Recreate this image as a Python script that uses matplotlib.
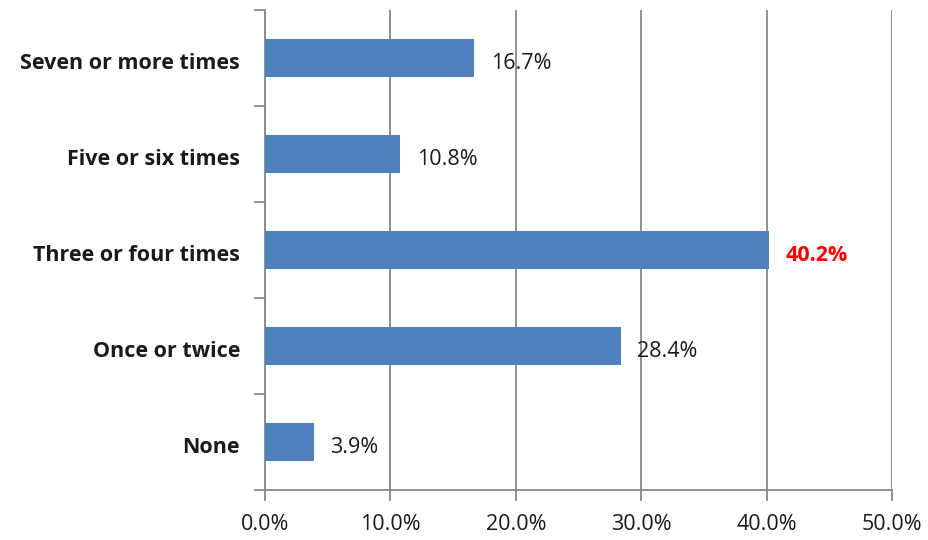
import matplotlib
matplotlib.use("Agg")
import matplotlib.pyplot as plt
from matplotlib.ticker import FuncFormatter, MultipleLocator
import matplotlib.transforms as mtransforms

categories = ["None", "Once or twice", "Three or four times", "Five or six times", "Seven or more times"]
values = [3.9, 28.4, 40.2, 10.8, 16.7]
highlight = "Three or four times"

plt.rcParams["font.family"] = ["Open Sans", "DejaVu Sans"]

fig = plt.figure(figsize=(9.29, 5.40), dpi=100)
ax = fig.add_axes([0.2853, 0.0926, 0.9602 - 0.2853, 0.9815 - 0.0926])

bar_color = "#4F81BD"
grid_color = "#878787"
text_color = "#1a1a1a"
fs = 15.5

pos = list(range(len(categories)))
ax.barh(pos, values, height=0.4, color=bar_color, zorder=3)

ax.set_xlim(0, 50)
ax.set_ylim(-0.5, len(categories) - 0.5)
ax.xaxis.set_major_locator(MultipleLocator(10))
ax.xaxis.set_major_formatter(FuncFormatter(lambda v, _: f"{v:.1f}%"))
ax.grid(axis="x", color=grid_color, linewidth=1.3, zorder=0)

# category labels sit between tick marks placed at the category boundaries
ax.set_yticks(pos)
ax.set_yticklabels(categories, fontsize=fs, fontweight="bold", color=text_color)
ax.tick_params(axis="y", length=0, pad=18)
ax.set_yticks([p - 0.5 for p in range(len(categories) + 1)], minor=True)
ax.tick_params(axis="y", which="minor", length=8, width=1.3, color=grid_color)
ax.tick_params(axis="x", length=8, width=1.3, color=grid_color, labelsize=fs,
               labelcolor=text_color, pad=9)

shift = mtransforms.ScaledTranslation(0, -2 / 72, fig.dpi_scale_trans)
for lbl in ax.get_yticklabels():
    lbl.set_transform(lbl.get_transform() + shift)

for side in ["top", "right"]:
    ax.spines[side].set_visible(False)
for side in ["left", "bottom"]:
    ax.spines[side].set_color(grid_color)
    ax.spines[side].set_linewidth(1.3)

value_shift = ax.transData + mtransforms.ScaledTranslation(0, -4 / 72, fig.dpi_scale_trans)
for p, cat, v in zip(pos, categories, values):
    is_hi = cat == highlight
    ax.text(v + 1.3, p, f"{v:.1f}%", va="center", ha="left", fontsize=fs,
            color="#FF0000" if is_hi else text_color,
            fontweight="bold" if is_hi else "normal", zorder=4,
            transform=value_shift)

fig.savefig("out.png", dpi=100)
